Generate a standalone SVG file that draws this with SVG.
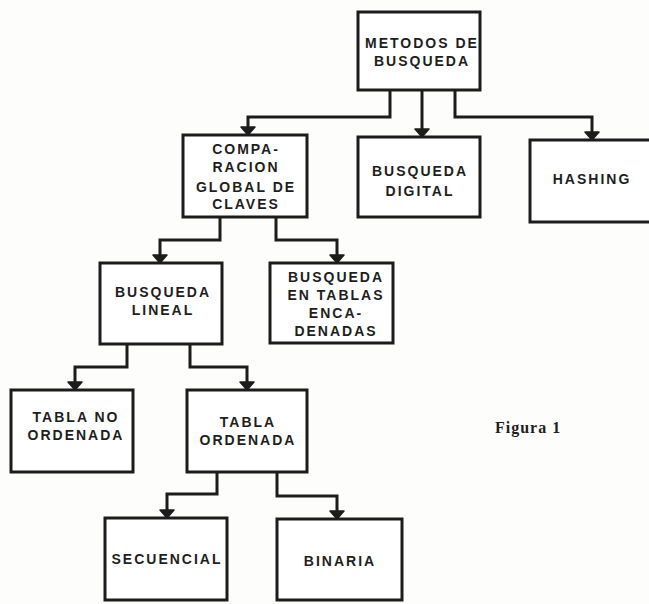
<svg xmlns="http://www.w3.org/2000/svg" width="649" height="604" viewBox="0 0 649 604">
  <style>
    .box rect { fill: #ffffff; stroke: #1c1c1c; stroke-width: 3; }
    .box text { font-family: "Liberation Sans", Arial, sans-serif; font-weight: bold; font-size: 14px; letter-spacing: 2px; fill: #1e1e1e; text-anchor: middle; }
    .link { fill: none; stroke: #1c1c1c; stroke-width: 3; stroke-linejoin: miter; }
    .caption { font-family: "Liberation Serif", "Times New Roman", serif; font-weight: bold; font-size: 16px; letter-spacing: 1px; fill: #1e1e1e; }
  </style>
  <defs>
    <!-- arrowhead drawn along +x, rotated to the line direction -->
    <marker id="head" markerUnits="userSpaceOnUse" markerWidth="11" markerHeight="16" refX="9" refY="8" orient="auto" viewBox="0 0 11 16">
      <path d="M1,1 L9,8 L1,15 Z" fill="#1c1c1c" stroke="#1c1c1c" stroke-width="1.5" stroke-linejoin="round"/>
    </marker>
  </defs>
  <rect x="0" y="0" width="649" height="604" fill="#fdfdfb"/>

  <!-- connectors -->
  <g id="connectors">
    <path class="link" d="M390,90 V117 H248 V135" marker-end="url(#head)"/>
    <path class="link" d="M422,90 V137" marker-end="url(#head)"/>
    <path class="link" d="M455,90 V117 H592 V140" marker-end="url(#head)"/>
    <path class="link" d="M220,217 V240 H160 V263" marker-end="url(#head)"/>
    <path class="link" d="M276,217 V240 H337 V263" marker-end="url(#head)"/>
    <path class="link" d="M127,344 V367 H75 V390" marker-end="url(#head)"/>
    <path class="link" d="M190,344 V367 H247 V390" marker-end="url(#head)"/>
    <path class="link" d="M217,472 V494 H167 V518" marker-end="url(#head)"/>
    <path class="link" d="M277,472 V496 H337 V519" marker-end="url(#head)"/>
  </g>

  <g id="metodos" class="box">
    <rect x="358" y="12" width="122" height="78"/>
    <text x="422" y="48">METODOS DE</text>
    <text x="422" y="66">BUSQUEDA</text>
  </g>

  <g id="comparacion" class="box">
    <rect x="183" y="135" width="124" height="82"/>
    <text x="246" y="154">COMPA-</text>
    <text x="246" y="172">RACION</text>
    <text x="246" y="192">GLOBAL DE</text>
    <text x="246" y="209">CLAVES</text>
  </g>

  <g id="digital" class="box">
    <rect x="358" y="137" width="122" height="80"/>
    <text x="420" y="176">BUSQUEDA</text>
    <text x="420" y="196">DIGITAL</text>
  </g>

  <g id="hashing" class="box">
    <rect x="530" y="140" width="124" height="82"/>
    <text x="592" y="184">HASHING</text>
  </g>

  <g id="lineal" class="box">
    <rect x="100" y="263" width="122" height="81"/>
    <text x="163" y="297">BUSQUEDA</text>
    <text x="163" y="315">LINEAL</text>
  </g>

  <g id="encadenadas" class="box">
    <rect x="270" y="263" width="123" height="80"/>
    <text x="336" y="282">BUSQUEDA</text>
    <text x="336" y="300">EN TABLAS</text>
    <text x="336" y="318">ENCA-</text>
    <text x="336" y="336">DENADAS</text>
  </g>

  <g id="no-ordenada" class="box">
    <rect x="11" y="390" width="122" height="82"/>
    <text x="76" y="422">TABLA NO</text>
    <text x="76" y="440">ORDENADA</text>
  </g>

  <g id="ordenada" class="box">
    <rect x="187" y="390" width="120" height="82"/>
    <text x="248" y="427">TABLA</text>
    <text x="248" y="445">ORDENADA</text>
  </g>

  <g id="secuencial" class="box">
    <rect x="105" y="518" width="122" height="82"/>
    <text x="167" y="564">SECUENCIAL</text>
  </g>

  <g id="binaria" class="box">
    <rect x="277" y="519" width="125" height="81"/>
    <text x="340" y="566">BINARIA</text>
  </g>

  <text class="caption" x="495" y="433">Figura 1</text>
</svg>
